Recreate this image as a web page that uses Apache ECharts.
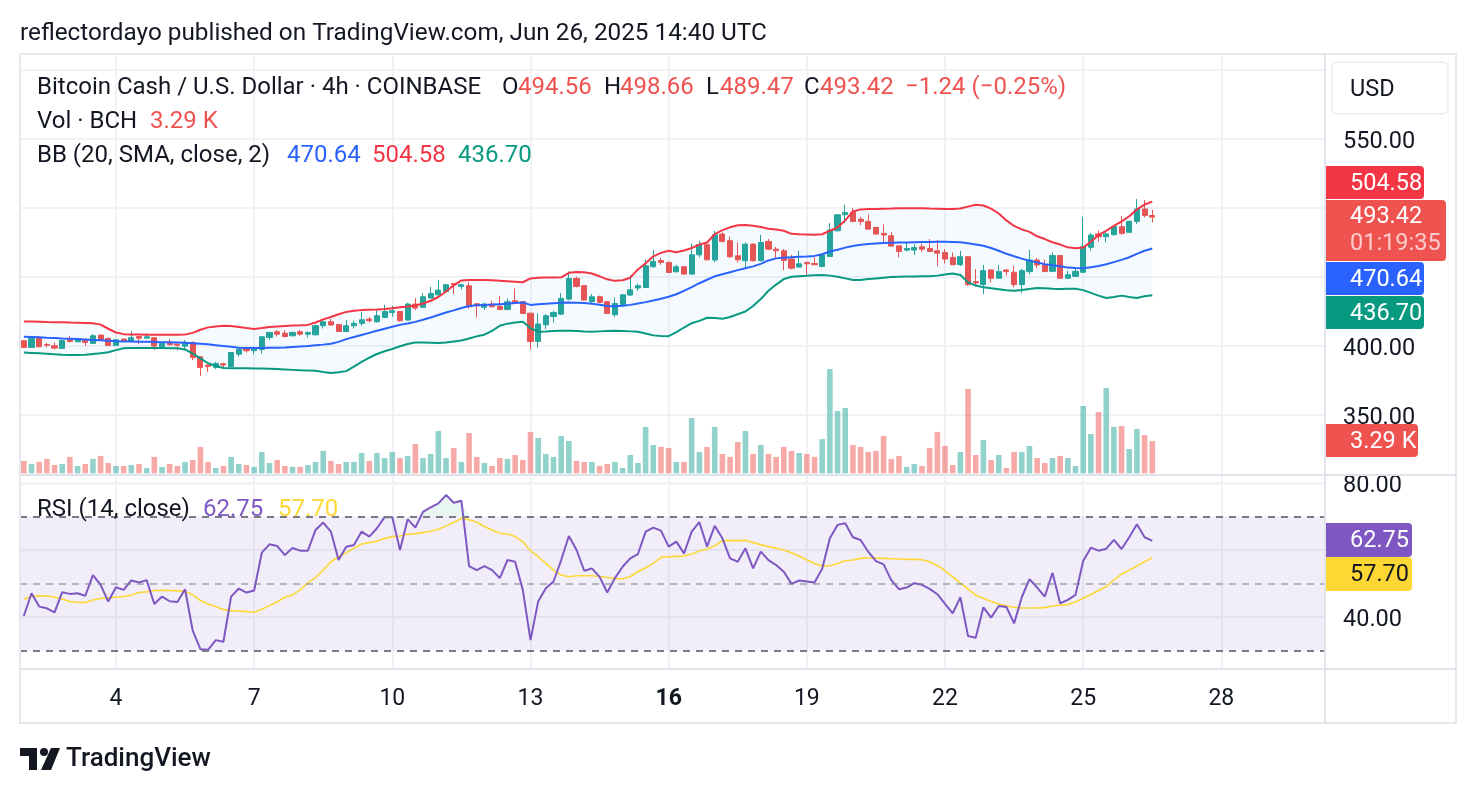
<!DOCTYPE html>
<html>
<head>
<meta charset="utf-8">
<title>BCHUSD 4h - TradingView</title>
<script src="https://cdn.jsdelivr.net/npm/echarts@6.0.0/dist/echarts.min.js"></script>
<style>
html, body { margin: 0; padding: 0; background: #ffffff; }
#chart1 { width: 1476px; height: 794px; }
</style>
</head>
<body>
<div id="chart1"></div>
<script>
// 4h bars, first bar Jun 2 2025 00:00 UTC, last bar Jun 26 12:00
var startDay = 2;
var slotCount = 170;          // visible slots incl. empty space on the right
var dayTicks = [4, 7, 10, 13, 16, 19, 22, 25, 28];
var boldDay = 16;
var priceTickLabels = [550, 400, 350];
var rsiTickLabels = [80, 40];

var opens = [
  403.8, 399.0, 405.5, 401.1, 400.2, 398.2, 404.5, 403.1, 404.0, 401.9,
  407.9, 405.5, 400.4, 405.0, 403.3, 406.9, 405.7, 406.0, 399.7, 402.3,
  401.4, 399.9, 402.6, 392.2, 386.2, 384.5, 387.1, 385.2, 394.1, 398.2,
  396.6, 397.5, 406.2, 410.3, 409.3, 407.4, 410.3, 408.6, 408.1, 414.7,
  417.6, 415.6, 410.5, 414.7, 416.4, 419.5, 417.6, 420.7, 424.3, 425.0,
  418.8, 430.4, 428.0, 434.7, 437.1, 439.5, 445.3, 443.2, 443.7, 430.6,
  428.0, 430.4, 428.7, 426.5, 432.8, 432.1, 423.8, 403.3, 415.4, 421.4,
  423.1, 434.0, 448.9, 443.7, 432.1, 435.7, 432.1, 422.6, 429.9, 436.9,
  442.0, 442.4, 457.4, 461.9, 460.6, 453.8, 457.4, 452.1, 466.1, 473.4,
  462.3, 481.1, 476.3, 465.4, 461.8, 473.8, 461.8, 475.8, 470.2, 469.0,
  463.0, 457.2, 460.6, 459.8, 457.7, 464.9, 483.5, 495.1, 496.8, 491.9,
  490.3, 485.9, 481.6, 479.9, 472.6, 469.5, 469.5, 471.9, 470.7, 469.0,
  467.8, 464.2, 458.9, 464.7, 446.6, 444.5, 455.1, 449.1, 455.1, 453.4,
  444.5, 453.9, 462.3, 458.7, 454.1, 465.5, 449.1, 450.5, 453.4, 471.5,
  481.2, 479.2, 480.7, 486.5, 482.4, 490.3, 499.3, 494.56
];
var highs = [
  404.0, 406.0, 407.2, 402.2, 402.5, 404.3, 407.2, 405.9, 404.5, 408.6,
  408.2, 406.0, 405.0, 405.5, 410.8, 407.0, 409.3, 406.5, 402.8, 405.0,
  401.4, 404.3, 403.3, 392.5, 386.5, 388.6, 387.9, 395.5, 399.0, 399.4,
  399.4, 407.2, 410.3, 411.5, 411.5, 410.5, 411.5, 410.5, 415.5, 418.3,
  419.5, 416.0, 418.8, 418.3, 424.8, 421.2, 426.0, 429.9, 429.2, 425.5,
  431.3, 434.7, 438.3, 442.9, 448.0, 445.0, 445.3, 444.9, 446.5, 430.8,
  431.3, 432.8, 436.4, 434.5, 441.7, 432.5, 424.0, 423.6, 423.1, 425.5,
  438.3, 454.0, 450.2, 444.0, 437.6, 436.5, 432.5, 435.2, 437.6, 451.6,
  445.3, 462.5, 469.5, 463.8, 461.0, 458.8, 458.0, 474.3, 476.3, 474.0,
  483.5, 482.3, 479.2, 475.0, 475.0, 474.5, 480.6, 477.5, 471.9, 470.2,
  466.0, 469.0, 461.3, 464.2, 466.1, 489.1, 495.6, 502.4, 499.9, 493.5,
  495.3, 486.4, 488.1, 482.8, 472.6, 474.8, 473.8, 474.3, 477.5, 476.8,
  470.2, 467.8, 469.0, 465.0, 455.8, 458.7, 455.8, 458.7, 455.8, 458.2,
  455.8, 469.6, 463.8, 462.6, 467.9, 466.0, 454.6, 455.8, 493.7, 481.9,
  483.6, 482.4, 487.0, 494.4, 491.0, 506.5, 505.8, 498.66
];
var lows = [
  398.5, 398.8, 399.0, 398.9, 397.5, 398.0, 402.6, 402.6, 400.2, 401.9,
  404.0, 400.0, 400.0, 403.5, 403.0, 401.3, 405.5, 397.0, 399.0, 400.4,
  397.0, 397.0, 389.8, 378.5, 381.3, 383.3, 384.5, 385.0, 392.4, 395.3,
  394.1, 394.4, 404.3, 406.9, 406.2, 407.0, 407.4, 406.2, 407.7, 412.7,
  414.7, 410.3, 410.0, 412.7, 414.5, 417.0, 417.0, 420.2, 421.2, 417.6,
  418.5, 426.0, 427.5, 434.7, 435.7, 439.0, 437.6, 441.0, 427.0, 420.7,
  426.0, 428.0, 426.0, 426.0, 430.8, 423.3, 397.5, 398.9, 412.2, 417.0,
  422.4, 433.0, 442.4, 433.0, 430.8, 431.0, 423.3, 421.2, 429.5, 436.4,
  440.0, 442.0, 457.0, 458.8, 453.0, 453.3, 451.8, 451.8, 464.2, 462.0,
  460.6, 475.0, 463.8, 460.6, 456.4, 461.3, 461.3, 469.5, 463.7, 455.0,
  455.5, 457.0, 451.6, 458.8, 457.0, 464.7, 483.0, 489.1, 489.6, 487.6,
  484.5, 480.6, 475.0, 472.0, 464.2, 468.5, 465.9, 468.0, 468.3, 457.7,
  459.8, 458.6, 458.0, 443.5, 443.0, 437.7, 446.1, 449.0, 451.0, 442.5,
  438.2, 452.2, 456.5, 453.6, 454.0, 448.8, 449.0, 450.0, 453.0, 469.1,
  475.6, 475.1, 480.0, 480.7, 481.9, 488.4, 493.2, 489.47
];
var closes = [
  399.0, 405.5, 399.5, 400.6, 398.5, 404.0, 403.3, 405.2, 402.6, 407.4,
  404.5, 400.4, 404.5, 403.8, 406.0, 405.7, 406.7, 400.0, 401.9, 400.9,
  400.6, 402.6, 391.7, 384.5, 385.2, 387.4, 386.2, 395.3, 397.5, 396.6,
  398.2, 406.7, 409.8, 408.6, 406.9, 409.8, 408.6, 409.8, 414.7, 417.6,
  415.2, 410.5, 414.7, 416.4, 419.0, 418.3, 421.9, 425.0, 425.5, 418.3,
  430.4, 427.5, 435.7, 438.1, 440.5, 444.4, 444.4, 444.4, 428.4, 429.2,
  430.4, 428.4, 426.5, 432.1, 431.6, 423.6, 403.3, 415.9, 421.9, 424.3,
  434.5, 448.9, 443.2, 433.3, 435.7, 431.6, 423.6, 430.8, 437.1, 440.7,
  443.7, 458.1, 461.3, 460.6, 453.3, 457.4, 452.1, 466.1, 473.4, 462.5,
  480.6, 475.8, 464.7, 462.5, 473.8, 461.8, 475.0, 470.2, 469.0, 462.0,
  456.4, 459.6, 459.6, 458.9, 465.9, 484.0, 495.1, 496.8, 490.3, 490.3,
  484.7, 481.1, 480.4, 472.4, 468.5, 470.7, 471.4, 470.2, 468.5, 467.3,
  463.0, 458.9, 464.7, 444.5, 445.7, 454.6, 449.1, 453.9, 453.9, 444.5,
  454.6, 462.3, 458.7, 453.9, 465.5, 449.1, 451.7, 454.1, 472.0, 480.4,
  479.2, 481.2, 486.5, 481.6, 490.3, 499.3, 494.6, 493.42
];
// volume, thousands of BCH
var volumes = [
  1.26, 0.95, 1.16, 1.46, 0.85, 0.95, 1.67, 0.75, 0.95, 1.46,
  1.77, 1.05, 0.75, 0.75, 0.85, 0.95, 0.54, 1.67, 0.65, 0.95,
  0.75, 1.16, 1.36, 2.69, 1.16, 0.54, 0.75, 1.67, 0.95, 0.85,
  0.65, 2.18, 1.05, 1.36, 0.75, 0.65, 0.65, 0.85, 1.16, 2.28,
  1.26, 0.95, 1.16, 1.16, 2.07, 1.26, 2.07, 1.56, 2.18, 1.56,
  1.77, 2.99, 1.56, 1.97, 4.32, 1.56, 2.58, 1.16, 4.11, 1.67,
  1.05, 0.75, 1.56, 1.46, 1.87, 1.36, 4.22, 3.60, 1.97, 1.67,
  3.81, 3.30, 1.26, 1.16, 1.16, 0.75, 0.95, 1.16, 0.54, 1.87,
  1.05, 4.73, 2.89, 2.69, 2.58, 1.16, 1.16, 5.64, 2.18, 2.69,
  4.73, 1.97, 1.67, 3.20, 4.32, 1.97, 2.89, 1.97, 1.67, 2.69,
  2.28, 2.07, 1.97, 1.67, 3.49, 10.64, 6.36, 6.66, 2.89, 2.69,
  2.18, 2.28, 3.81, 1.46, 1.77, 0.65, 0.95, 0.75, 2.58, 4.22,
  2.79, 0.85, 2.18, 8.60, 1.87, 3.40, 1.36, 1.87, 0.54, 2.18,
  2.18, 2.79, 1.56, 1.05, 1.56, 1.77, 1.56, 0.75, 6.87, 4.01,
  6.26, 8.70, 4.73, 4.83, 2.48, 4.52, 3.91, 3.29
];
var bbUpper = [
  417.8, 417.7, 417.6, 417.4, 417.3, 417.2, 417.0, 416.9, 416.7, 416.5,
  415.5, 412.5, 409.8, 408.6, 408.4, 408.3, 408.2, 408.2, 408.1, 408.1,
  408.2, 408.4, 409.5, 411.8, 413.5, 414.2, 414.7, 414.5, 413.8, 413.0,
  412.3, 413.0, 413.8, 414.2, 414.5, 414.8, 415.0, 415.3, 417.0, 419.3,
  421.0, 423.0, 424.7, 425.5, 426.0, 426.2, 426.4, 426.8, 427.4, 428.0,
  428.6, 429.4, 430.8, 432.8, 435.5, 439.5, 444.0, 447.5, 447.8, 447.8,
  447.8, 447.6, 447.3, 447.0, 446.6, 446.2, 449.0, 449.5, 449.6, 449.7,
  449.8, 453.0, 453.7, 453.4, 452.5, 450.5, 448.3, 447.2, 447.6, 449.5,
  455.5, 460.0, 465.0, 467.5, 469.0, 468.0, 469.2, 471.0, 473.5, 475.0,
  481.0, 484.0, 486.0, 487.5, 487.6, 487.2, 486.3, 485.0, 484.4, 483.5,
  481.3, 481.0, 480.8, 480.6, 481.0, 483.5, 486.0, 491.0, 497.5, 499.0,
  499.2, 499.3, 499.5, 499.6, 499.8, 499.9, 499.9, 499.8, 499.6, 499.5,
  499.3, 499.2, 499.6, 501.0, 502.4, 501.8, 499.5, 496.0, 491.0, 487.0,
  484.5, 482.7, 479.5, 477.5, 475.2, 473.5, 471.5, 470.8, 471.3, 475.5,
  480.5, 483.5, 487.0, 490.3, 494.0, 499.0, 502.5, 504.58
];
var bbBasis = [
  406.7, 406.5, 406.3, 406.0, 405.8, 405.5, 405.3, 405.0, 404.7, 404.4,
  404.1, 403.8, 403.5, 403.3, 403.2, 403.1, 403.0, 402.9, 402.8, 402.7,
  402.6, 402.4, 402.0, 401.6, 401.2, 400.6, 400.0, 399.4, 398.8, 398.5,
  398.5, 398.6, 398.7, 398.8, 399.0, 399.3, 399.6, 400.0, 400.5, 401.0,
  401.6, 403.0, 405.0, 406.5, 408.0, 409.5, 411.0, 412.5, 414.0, 415.3,
  416.3, 417.5, 419.0, 420.7, 422.5, 424.3, 425.8, 427.5, 429.0, 429.5,
  429.8, 430.0, 430.3, 430.6, 431.2, 431.5, 429.8, 430.3, 430.6, 431.0,
  431.3, 431.6, 431.4, 431.1, 430.6, 429.9, 429.0, 428.8, 429.2, 429.8,
  430.8, 431.8, 433.0, 434.3, 435.7, 437.5, 440.0, 442.7, 445.5, 448.0,
  450.5, 452.0, 453.5, 455.0, 456.3, 457.7, 459.5, 462.0, 463.5, 464.0,
  464.3, 464.6, 464.9, 465.3, 466.5, 468.5, 469.8, 471.3, 472.4, 473.4,
  474.0, 474.3, 474.6, 474.8, 475.0, 475.0, 475.2, 475.3, 475.4, 475.5,
  475.5, 475.4, 475.2, 474.5, 473.6, 472.7, 471.0, 469.0, 466.8, 465.0,
  463.3, 461.8, 460.6, 459.3, 458.5, 457.8, 456.8, 456.5, 456.3, 457.0,
  458.0, 459.2, 460.8, 462.4, 464.3, 466.8, 469.0, 470.64
];
var bbLower = [
  395.3, 395.0, 394.7, 394.4, 394.0, 393.7, 393.5, 393.4, 393.6, 394.2,
  394.8, 395.5, 397.0, 398.3, 398.5, 398.5, 398.5, 398.5, 398.5, 398.4,
  398.3, 397.5, 394.5, 391.0, 387.5, 385.5, 384.0, 383.8, 383.8, 383.8,
  383.7, 383.7, 383.5, 383.3, 383.0, 382.7, 382.4, 382.2, 382.0, 381.2,
  380.5, 381.0, 381.8, 385.0, 388.5, 391.5, 394.2, 396.2, 397.8, 399.8,
  401.5, 402.6, 402.5, 402.3, 402.1, 402.5, 403.3, 404.0, 405.5, 407.0,
  408.2, 411.0, 414.7, 416.2, 417.0, 417.6, 413.0, 410.3, 410.5, 410.8,
  411.0, 411.0, 410.8, 410.5, 410.4, 410.6, 410.8, 411.0, 410.9, 410.6,
  410.3, 409.0, 407.7, 407.3, 407.1, 410.0, 413.4, 416.5, 418.2, 420.5,
  420.3, 419.8, 421.0, 423.0, 425.0, 429.0, 434.0, 440.0, 444.5, 448.5,
  450.2, 450.6, 450.9, 451.3, 451.5, 451.0, 450.2, 449.0, 447.8, 447.8,
  448.5, 449.0, 449.5, 450.0, 450.2, 450.3, 450.4, 450.5, 450.6, 451.0,
  451.8, 452.6, 451.5, 446.1, 443.8, 442.5, 441.8, 441.2, 440.4, 440.1,
  440.5, 441.3, 442.0, 441.8, 441.5, 441.3, 441.4, 441.5, 440.5, 438.5,
  436.5, 434.8, 435.5, 436.5, 435.5, 434.8, 436.0, 436.70
];
var rsiValues = [
  40.3, 47.1, 43.1, 42.6, 41.4, 47.4, 46.9, 47.1, 46.3, 52.5,
  49.6, 44.6, 48.9, 48.1, 50.9, 50.3, 51.0, 43.9, 46.1, 44.7,
  44.5, 48.3, 35.9, 30.4, 30.2, 33.1, 32.6, 46.1, 48.5, 47.3,
  47.9, 59.2, 61.7, 61.2, 58.5, 60.6, 59.8, 59.8, 66.0, 68.2,
  65.5, 57.0, 61.0, 61.5, 65.5, 64.0, 66.5, 69.8, 69.8, 60.0,
  69.2, 66.7, 71.4, 72.7, 73.9, 76.4, 74.1, 74.7, 55.2, 54.0,
  55.2, 54.0, 51.6, 57.0, 56.5, 48.1, 33.1, 44.6, 48.6, 50.6,
  57.0, 64.2, 60.0, 53.8, 54.5, 52.0, 47.3, 51.6, 55.0, 57.5,
  58.8, 65.5, 66.7, 65.8, 61.0, 62.5, 59.0, 65.5, 68.3, 61.0,
  67.2, 63.5, 57.5, 56.5, 60.5, 54.5, 59.5, 57.0, 55.5, 53.5,
  49.9, 50.9, 50.6, 50.3, 54.4, 63.5, 67.5, 68.0, 63.8, 63.0,
  59.5, 56.7, 55.7, 51.0, 48.3, 48.8, 50.1, 49.6, 48.4, 46.8,
  43.9, 41.1, 45.9, 34.3, 33.8, 42.9, 39.8, 43.3, 43.0, 38.1,
  45.9, 51.3, 48.8, 46.1, 53.2, 44.1, 45.1, 46.6, 56.7, 60.7,
  59.8, 60.4, 63.0, 60.3, 63.8, 67.7, 63.8, 62.75
];
var rsiMa = [
  45.3, 46.1, 46.3, 46.3, 45.9, 45.4, 44.6, 44.4, 44.3, 45.1,
  45.5, 45.7, 45.9, 46.1, 46.5, 47.3, 47.5, 47.9, 48.0, 47.9,
  47.8, 47.7, 46.6, 44.9, 43.9, 43.1, 42.2, 41.9, 41.8, 41.6,
  41.4, 42.3, 43.4, 44.5, 45.9, 46.6, 48.1, 50.1, 51.8, 54.0,
  56.5, 58.0, 59.2, 60.5, 61.8, 62.2, 62.6, 63.4, 64.0, 64.2,
  64.7, 64.9, 65.2, 65.6, 66.2, 67.2, 68.2, 69.4, 69.0, 68.3,
  67.0, 66.0, 65.0, 64.8, 64.0, 62.5, 59.8, 58.0, 56.0, 54.0,
  52.5, 52.0, 52.3, 52.3, 52.3, 52.1, 51.8, 51.5, 51.4, 52.1,
  53.5, 54.7, 56.0, 57.8, 58.0, 58.1, 58.2, 58.8, 59.7, 60.3,
  61.2, 62.8, 62.8, 62.8, 62.9, 62.2, 61.6, 61.0, 60.5, 60.0,
  59.2, 58.2, 57.0, 56.0, 55.2, 55.3, 56.0, 56.8, 57.0, 57.5,
  57.6, 57.6, 57.5, 57.4, 57.3, 57.2, 57.2, 57.1, 56.5, 55.4,
  53.8, 52.0, 50.1, 48.3, 46.5, 45.6, 44.6, 43.9, 43.3, 42.9,
  42.7, 42.7, 42.7, 42.8, 43.3, 43.5, 43.7, 44.5, 45.6, 46.7,
  47.9, 49.1, 51.1, 52.8, 54.0, 55.2, 56.5, 57.70
];

var FONT = 'Roboto, "Noto Sans", sans-serif';
var TXT = '#131722';
var UP = '#26a69a', DOWN = '#ef5350';
var AXIS_FS = 23.5;
var TEXT_DY = 2.5;   // Roboto sits a little high when middle-aligned

var myChart = echarts.init(document.getElementById('chart1'));

// x categories: one per 4h slot
var categories = [];
for (var i = 0; i < slotCount; i++) {
  var h = i * 4;
  categories.push((startDay + Math.floor(h / 24)) + '|' + (h % 24));
}
function isDayTick(index, value) {
  var p = String(value).split('|');
  return p[1] === '0' && dayTicks.indexOf(+p[0]) >= 0;
}

var last = closes.length - 1;
var candleData = [], volData = [], bandBase = [], bandWidth = [], obBase = [], obFill = [];
for (var k = 0; k < closes.length; k++) {
  candleData.push([opens[k], closes[k], lows[k], highs[k]]);
  volData.push({
    value: volumes[k],
    itemStyle: { color: closes[k] >= opens[k] ? 'rgba(38,166,154,0.5)' : 'rgba(239,83,80,0.5)' }
  });
  bandBase.push(bbLower[k]);
  bandWidth.push(+(bbUpper[k] - bbLower[k]).toFixed(2));
  obBase.push(70);
  obFill.push(Math.max(rsiValues[k] - 70, 0));
}

function fmtVol(v) { return v.toFixed(2) + ' K'; }

function xAxisBase(grid, showLabel) {
  return {
    type: 'category',
    gridIndex: grid,
    data: categories,
    boundaryGap: true,
    axisLine: { show: false },
    axisTick: { show: false },
    axisLabel: {
      show: showLabel,
      interval: isDayTick,
      margin: 4,
      color: TXT,
      fontFamily: FONT,
      fontSize: 23,
      formatter: function (v) {
        var d = String(v).split('|')[0];
        return +d === boldDay ? '{b|' + d + '}' : d;
      },
      rich: { b: { fontWeight: 'bold', fontSize: 23, fontFamily: FONT, color: TXT } }
    },
    splitLine: {
      show: grid !== 1,
      interval: isDayTick,
      alignWithLabel: true,
      lineStyle: { color: '#f0f2f6', width: 2 }
    }
  };
}

// y tick label, nudged down a few px through a padded rich fragment
var yTickRich = { p: { fontSize: AXIS_FS, fontFamily: FONT, color: TXT, padding: [6, 0, 0, 0] } };

function textEl(str, x, y, color, size, weight) {
  return {
    type: 'text', z: 100,
    style: {
      text: str, x: x, y: y + TEXT_DY, fill: color || TXT,
      fontSize: size || 24, fontFamily: FONT, fontWeight: weight || 'normal',
      verticalAlign: 'middle', align: 'left'
    }
  };
}
function tag(y, h, w, color, lines, textColor) {
  var els = [{
    type: 'rect', z: 90,
    shape: { x: 1326, y: y, width: w, height: h, r: [0, 4, 4, 0] },
    style: { fill: color }
  }];
  for (var n = 0; n < lines.length; n++) {
    els.push(textEl(lines[n].t, 1350, lines[n].y, lines[n].c || textColor || '#ffffff', AXIS_FS));
  }
  return els;
}

var graphics = [
  // header
  textEl('reflectordayo published on TradingView.com, Jun 26, 2025 14:40 UTC', 20, 31, TXT, 24.3),
  textEl('Bitcoin Cash / U.S. Dollar · 4h · COINBASE', 37, 85, TXT, 24),
  textEl('O', 502, 85), textEl(opens[last].toFixed(2), 518, 85, DOWN),
  textEl('H', 604, 85), textEl(highs[last].toFixed(2), 620, 85, DOWN),
  textEl('L', 706, 85), textEl(lows[last].toFixed(2), 720, 85, DOWN),
  textEl('C', 804, 85), textEl(closes[last].toFixed(2), 820, 85, DOWN),
  textEl('\u22121.24 (\u22120.25%)', 905, 85, DOWN),
  textEl('Vol · BCH', 37, 119), textEl(fmtVol(volumes[last]), 150, 119, DOWN),
  textEl('BB (20, SMA, close, 2)', 37, 153),
  textEl(bbBasis[last].toFixed(2), 287, 153, '#2962FF'),
  textEl(bbUpper[last].toFixed(2), 372, 153, '#F23645'),
  textEl(bbLower[last].toFixed(2), 458, 153, '#089981'),
  textEl('RSI (14, close)', 37, 507),
  textEl(rsiValues[last].toFixed(2), 203, 507, '#7E57C2'),
  textEl(rsiMa[last].toFixed(2), 278, 507, '#FDD835'),
  // cover RSI grid overshoot below the time-axis separator
  { type: 'rect', z: 50, shape: { x: 20, y: 670, width: 1305, height: 15 }, style: { fill: '#ffffff' } },
  // frame lines
  { type: 'rect', z: 95, shape: { x: 20, y: 54, width: 1436, height: 669 }, style: { fill: 'none', stroke: '#e6e8ee', lineWidth: 2 } },
  { type: 'line', z: 95, shape: { x1: 20, y1: 475, x2: 1456, y2: 475 }, style: { stroke: '#e0e3eb', lineWidth: 2 } },
  { type: 'line', z: 95, shape: { x1: 20, y1: 669, x2: 1456, y2: 669 }, style: { stroke: '#e0e3eb', lineWidth: 2 } },
  { type: 'line', z: 95, shape: { x1: 1325, y1: 54, x2: 1325, y2: 723 }, style: { stroke: '#e0e3eb', lineWidth: 2 } },
  // USD box
  { type: 'rect', z: 96, shape: { x: 1332, y: 62, width: 116, height: 52, r: 6 }, style: { fill: '#ffffff', stroke: '#e0e3eb', lineWidth: 1 } },
  textEl('USD', 1350, 88, TXT, AXIS_FS),
  // logo
  { type: 'polygon', z: 100, shape: { points: [[20, 748], [37, 748], [37, 770], [29, 770], [29, 756], [20, 756]] }, style: { fill: TXT } },
  { type: 'circle', z: 100, shape: { cx: 44, cy: 752, r: 4 }, style: { fill: TXT } },
  { type: 'polygon', z: 100, shape: { points: [[51, 748], [60, 748], [51, 770], [41, 770]] }, style: { fill: TXT } },
  textEl('TradingView', 66, 757, TXT, 26, 500)
];
graphics = graphics
  .concat(tag(166, 33, 98, '#F23645', [{ t: bbUpper[last].toFixed(2), y: 182 }]))
  .concat(tag(200, 61, 120, '#ef5350', [{ t: closes[last].toFixed(2), y: 215 }, { t: '01:19:35', y: 242, c: 'rgba(255,255,255,0.7)' }]))
  .concat(tag(262, 33, 98, '#2962FF', [{ t: bbBasis[last].toFixed(2), y: 278 }]))
  .concat(tag(296, 33, 98, '#089981', [{ t: bbLower[last].toFixed(2), y: 312 }]))
  .concat(tag(424, 33, 92, '#ef5350', [{ t: fmtVol(volumes[last]), y: 440 }]))
  .concat(tag(523, 34, 86, '#7E57C2', [{ t: rsiValues[last].toFixed(2), y: 539 }]))
  .concat(tag(557, 34, 86, '#FDD835', [{ t: rsiMa[last].toFixed(2), y: 573 }], TXT));

var option = {
  animation: false,
  backgroundColor: '#ffffff',
  textStyle: { fontFamily: FONT },
  grid: [
    { left: 20, width: 1305, top: 54, height: 430 },
    { left: 20, width: 1305, top: 360, height: 113.3 },
    { left: 20, width: 1305, top: 475, height: 209 }
  ],
  xAxis: [xAxisBase(0, false), xAxisBase(1, false), xAxisBase(2, true)],
  yAxis: [
    {
      type: 'value', gridIndex: 0, position: 'right', min: 300, max: 611.6, interval: 50,
      axisLine: { show: false }, axisTick: { show: false },
      axisLabel: {
        align: 'left', margin: 18, color: TXT, fontFamily: FONT, fontSize: AXIS_FS,
        rich: yTickRich,
        formatter: function (v) { return priceTickLabels.indexOf(v) >= 0 ? '{p|' + v.toFixed(2) + '}' : ''; }
      },
      splitLine: { lineStyle: { color: '#f0f2f6', width: 2 } }
    },
    {
      type: 'value', gridIndex: 1, min: 0, max: 11.56, show: false, splitLine: { show: false }
    },
    {
      type: 'value', gridIndex: 2, position: 'right', min: 20, max: 82.39, interval: 20,
      axisLine: { show: false }, axisTick: { show: false },
      axisLabel: {
        align: 'left', margin: 18, color: TXT, fontFamily: FONT, fontSize: AXIS_FS,
        rich: yTickRich,
        formatter: function (v) { return rsiTickLabels.indexOf(v) >= 0 ? '{p|' + v.toFixed(2) + '}' : ''; }
      },
      splitLine: { lineStyle: { color: '#f0f2f6', width: 2 } }
    }
  ],
  series: [
    {
      name: 'bb-base', type: 'line', xAxisIndex: 0, yAxisIndex: 0, stack: 'bb',
      data: bandBase, symbol: 'none', lineStyle: { opacity: 0 }, silent: true
    },
    {
      name: 'bb-fill', type: 'line', xAxisIndex: 0, yAxisIndex: 0, stack: 'bb',
      data: bandWidth, symbol: 'none', lineStyle: { opacity: 0 }, silent: true,
      areaStyle: { color: 'rgba(33,150,243,0.06)' }
    },
    {
      name: 'BB upper', type: 'line', xAxisIndex: 0, yAxisIndex: 0, data: bbUpper,
      symbol: 'none', lineStyle: { color: '#F23645', width: 2 }
    },
    {
      name: 'BB basis', type: 'line', xAxisIndex: 0, yAxisIndex: 0, data: bbBasis,
      symbol: 'none', lineStyle: { color: '#2962FF', width: 2 }
    },
    {
      name: 'BB lower', type: 'line', xAxisIndex: 0, yAxisIndex: 0, data: bbLower,
      symbol: 'none', lineStyle: { color: '#089981', width: 2 }
    },
    {
      name: 'BCHUSD', type: 'candlestick', xAxisIndex: 0, yAxisIndex: 0, data: candleData,
      barWidth: 5.6,
      itemStyle: { color: UP, color0: DOWN, borderColor: UP, borderColor0: DOWN, borderWidth: 1 }
    },
    {
      name: 'Vol', type: 'bar', xAxisIndex: 1, yAxisIndex: 1, data: volData, barWidth: 5.6
    },
    {
      name: 'ob-base', type: 'line', xAxisIndex: 2, yAxisIndex: 2, stack: 'ob',
      data: obBase, symbol: 'none', lineStyle: { opacity: 0 }, silent: true
    },
    {
      name: 'ob-fill', type: 'line', xAxisIndex: 2, yAxisIndex: 2, stack: 'ob',
      data: obFill, symbol: 'none', lineStyle: { opacity: 0 }, silent: true,
      areaStyle: { color: 'rgba(8,153,129,0.14)' }
    },
    {
      name: 'RSI MA', type: 'line', xAxisIndex: 2, yAxisIndex: 2, data: rsiMa,
      symbol: 'none', lineStyle: { color: '#FDD835', width: 1.6 }
    },
    {
      name: 'RSI', type: 'line', xAxisIndex: 2, yAxisIndex: 2, data: rsiValues,
      symbol: 'none', lineStyle: { color: '#7E57C2', width: 2 },
      markArea: {
        silent: true,
        itemStyle: { color: 'rgba(126,87,194,0.1)' },
        data: [[{ yAxis: 30 }, { yAxis: 70 }]]
      },
      markLine: {
        silent: true, symbol: 'none', label: { show: false },
        data: [
          { yAxis: 70, lineStyle: { color: '#787B86', type: [7, 6], width: 2 } },
          { yAxis: 50, lineStyle: { color: 'rgba(120,123,134,0.5)', type: [7, 6], width: 2 } },
          { yAxis: 30, lineStyle: { color: '#787B86', type: [7, 6], width: 2 } }
        ]
      }
    }
  ],
  graphic: graphics
};
myChart.setOption(option);
</script>
</body>
</html>
